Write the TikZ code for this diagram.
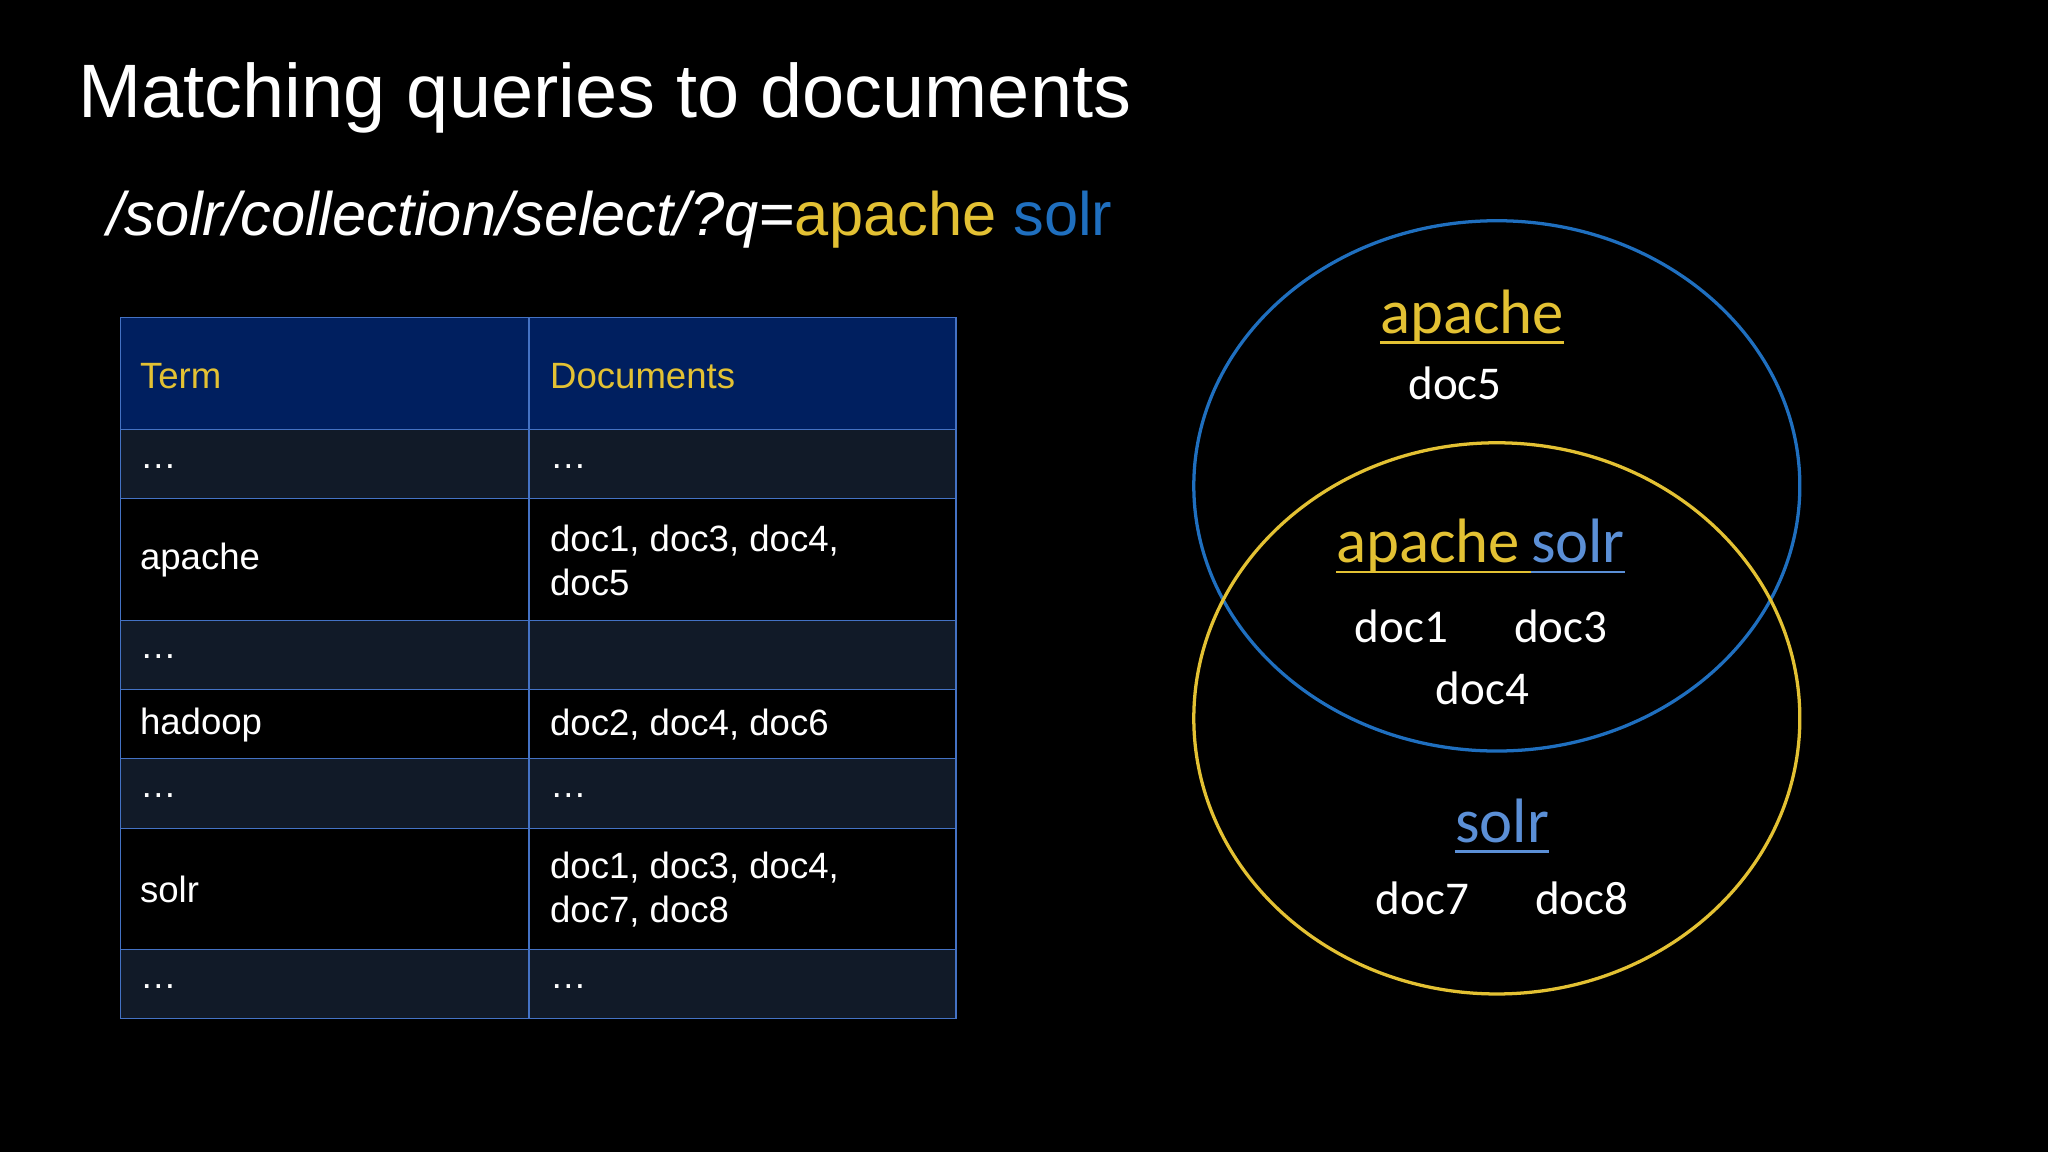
\documentclass[tikz,border=0pt]{standalone}
\usepackage{fontspec}
\setmainfont{Liberation Sans}
\newfontfamily\calfont{Carlito}
\definecolor{Y}{HTML}{E3C133}
\definecolor{B}{HTML}{1F6FBF}
\definecolor{LB}{HTML}{5B8FD6}
\definecolor{HB}{HTML}{001F5F}
\definecolor{BD}{HTML}{4472C4}
\definecolor{DR}{HTML}{111A28}
\tikzset{
 cell/.style={anchor=west,text=white,inner sep=0pt,font=\fontsize{28}{32}\selectfont,align=left},
 hcell/.style={cell,text=Y},
 vt/.style={anchor=base,inner sep=0pt,text=white,font=\calfont\fontsize{36}{40}\selectfont},
 vh/.style={anchor=base,inner sep=0pt,font=\calfont\fontsize{48}{52}\selectfont},
}
\begin{document}
\begin{tikzpicture}[x=1pt,y=-1pt]
\useasboundingbox (0,0) rectangle (1568,882);
\fill[black] (0,0) rectangle (1568,882);
\node[anchor=base west,inner sep=0pt,text=white,font=\fontsize{58}{62}\selectfont] (title) at (60,90) {Matching queries to documents};
\node[anchor=base west,inner sep=0pt,text=white,font=\fontsize{47}{52}\selectfont] (q) at (82,180) {\textit{/solr/collection/select/?q=}{\color{Y}apache} {\color{B}solr}};
% table
\fill[HB] (92,243) rectangle (732,329);
\foreach \a/\b in {329/382,475/528,581/634,727/780} \fill[DR] (92,\a) rectangle (732,\b);
\draw[BD,line width=1pt] (92,243) rectangle (732,780);
\foreach \yy in {329,382,475,528,581,634,727} \draw[BD,line width=0.8pt] (92,\yy) -- (732,\yy);
\draw[BD,line width=0.8pt] (405,243) -- (405,780);
\node[hcell] (h1) at (107,288) {Term};
\node[hcell] (h2) at (421,288) {Documents};
\node[cell] (r1a) at (107,357) {\dots};
\node[cell] (r1b) at (421,357) {\dots};
\node[cell] (r2a) at (107,429) {apache};
\node[cell] (r2b) at (421,429) {doc1, doc3, doc4,\\[2pt]doc5};
\node[cell] (r3a) at (107,503) {\dots};
\node[cell] (r4a) at (107,555) {hadoop};
\node[cell] (r4b) at (421,555) {doc2, doc4, doc6};
\node[cell] (r5a) at (107,609) {\dots};
\node[cell] (r5b) at (421,609) {\dots};
\node[cell] (r6a) at (107,681) {solr};
\node[cell] (r6b) at (421,681) {doc1, doc3, doc4,\\[2pt]doc7, doc8};
\node[cell] (r7a) at (107,755) {\dots};
\node[cell] (r7b) at (421,755) {\dots};
% venn
\draw[B,line width=2.5pt] (1146,372) ellipse [x radius=232, y radius=203];
\draw[Y,line width=2.5pt] (1146,550) ellipse [x radius=232, y radius=211];
\node[vh,text=Y] (ap) at (1127,255) {apache};
\draw[Y,line width=2pt] ([yshift=-7pt]ap.base west) -- ([yshift=-7pt]ap.base east);
\node[vt] (d5) at (1114,306) {doc5};
\node[vh,text=Y,anchor=base east] (ap2) at (1172,431) {apache\,};
\node[vh,text=LB,anchor=base west] (so2) at (ap2.base east) {solr};
\draw[Y,line width=2pt] ([yshift=-7pt]ap2.base west) -- ([yshift=-7pt]ap2.base east);
\draw[LB,line width=2pt] ([yshift=-7pt]so2.base west) -- ([yshift=-7pt]so2.base east);
\node[vt] (d1) at (1073,492) {doc1};
\node[vt] (d3) at (1195,492) {doc3};
\node[vt] (d4) at (1135,539) {doc4};
\node[vh,text=LB] (so) at (1150,645) {solr};
\draw[LB,line width=2pt] ([yshift=-7pt]so.base west) -- ([yshift=-7pt]so.base east);
\node[vt] (d7) at (1089,700) {doc7};
\node[vt] (d8) at (1211,700) {doc8};
\end{tikzpicture}
\end{document}
